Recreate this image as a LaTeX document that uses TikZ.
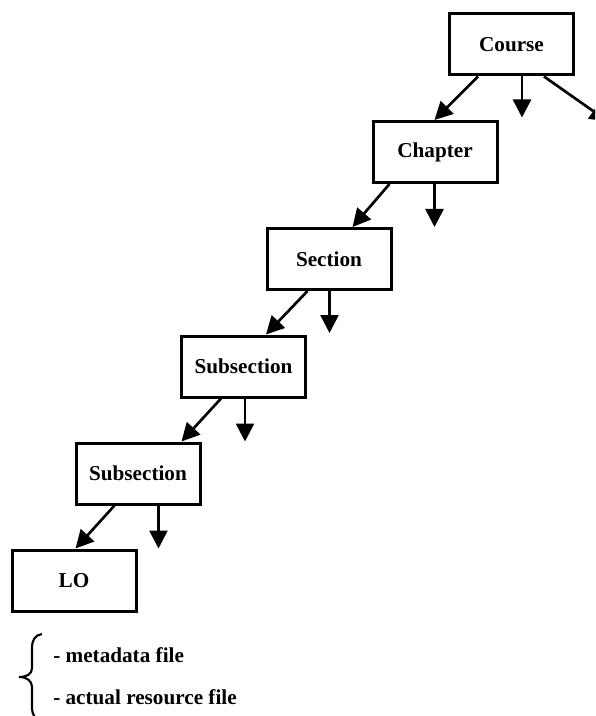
\documentclass[tikz,border=0pt]{standalone}
\usepackage{fontspec}
\setmainfont{Liberation Serif}
\usetikzlibrary{arrows.meta,calc}
\tikzstyle{level}=[rectangle,draw,line width=2.25pt,minimum width=93pt,minimum height=45.75pt,inner sep=0pt,font=\fontsize{15.9}{18}\selectfont\bfseries]
\tikzstyle{edge} = [draw,line width=2pt,-{Triangle[length=13.5pt,width=13.5pt]}]
\tikzstyle{note} = [anchor=west,inner sep=0pt,font=\fontsize{15.9}{18}\selectfont\bfseries]

\begin{document}
\begin{tikzpicture}[x=0.75pt,y=-0.75pt]

\useasboundingbox (0,0) rectangle (595,716);
\clip (0,0) rectangle (595,716);

     \foreach \pos/ \name/ \txt in {{(511.5,44.5)/course/Course},{(435,152)/chapter/Chapter}, {(329,259)/section/Section}, {(243.5,366.5)/subA/Subsection}, {(138,473.5)/subB/Subsection}, {(74,580.5)/lo/LO}}
        \node[level] (\name) at \pos {\txt};

    % links down the hierarchy
    \foreach \source/ \dest/ \sx/ \dx in {course/chapter/30/63, chapter/section/18/87, section/subA/42/86, subA/subB/41/107, subB/lo/40/65}
        \path[edge] ($(\source.south west)+(\sx,0)$) -- ($(\dest.north west)+(\dx,0)$);

    % files under each level
    \foreach \name/ \sx/ \len in {course/74/41, chapter/63/43, section/64/42, subA/65/43, subB/84/43}
        {
        \coordinate (\name-out) at ($(\name.south west)+(\sx,\len)$);
        \path[edge] ($(\name.south west)+(\sx,0)$) -- (\name-out);
        }

    \coordinate (course-more) at ($(course.south west)+(160,45)$);
    \path[edge] ($(course.south west)+(96,0)$) -- (course-more);

 \draw[line width=1.6pt] (42,634) .. controls (35,635) and (32,640) .. (32,648) -- (32,668) .. controls (32,674) and (27,677) .. (19,677) .. controls (27,677) and (32,681) .. (32,687) -- (32,707) .. controls (32,715) and (35,720) .. (42,721);

 \node[note] (meta) at (53,655) {- metadata file};
 \node[note] (actual) at (53,697) {- actual resource file};

 \end{tikzpicture}
\end{document}
